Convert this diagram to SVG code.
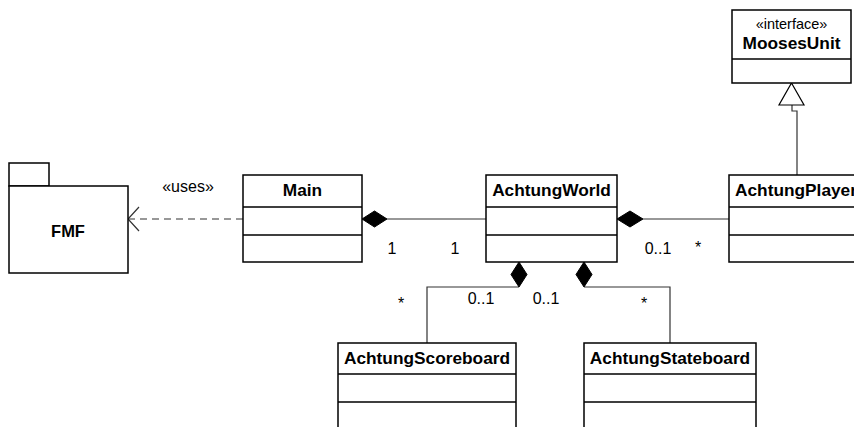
<svg xmlns="http://www.w3.org/2000/svg" width="854" height="427" viewBox="0 0 854 427">
<style>
.box{fill:#fff;stroke:#000;stroke-width:1.5}
.ln{fill:none;stroke:#000;stroke-width:1.5}
.edge{fill:none;stroke:#333;stroke-width:1.2}
.dia{fill:#000;stroke:#000;stroke-width:1}
.t{font-family:"Liberation Sans",Arial,sans-serif;font-size:16px;fill:#000}
.b{font-weight:bold;text-anchor:middle;font-size:17.3px}
.c{text-anchor:middle}
</style>
<rect width="854" height="427" fill="#fff"/>
<g id="connectors">
<path class="edge" d="M243,219 H128" stroke-dasharray="7,5"/>
<path class="edge" d="M139,207 L128,219 L139,231"/>
<path class="edge" d="M387,219 H486"/>
<path class="dia" d="M362,219 L374.5,211 L387,219 L374.5,227 Z"/>
<path class="edge" d="M643,219 H729"/>
<path class="dia" d="M617,219 L630,211 L643,219 L630,227 Z"/>
<path class="edge" d="M519,287 H427 V343"/>
<path class="dia" d="M519,262 L527,274.5 L519,287 L511,274.5 Z"/>
<path class="edge" d="M584,287 H670 V343"/>
<path class="dia" d="M584,262 L592,274.5 L584,287 L576,274.5 Z"/>
<path class="edge" d="M797,175 V111 H792 V105"/>
<path d="M791.5,83 L804,105 L779,105 Z" fill="#fff" stroke="#000" stroke-width="1.2"/>
</g>
<g class="t">
<text x="188" y="192" class="c">«uses»</text>
<text x="392" y="254" class="c">1</text>
<text x="455" y="254" class="c">1</text>
<text x="658" y="254" class="c">0..1</text>
<text x="698" y="253" class="c">*</text>
<text x="401" y="309" class="c">*</text>
<text x="481" y="304" class="c">0..1</text>
<text x="546" y="304" class="c">0..1</text>
<text x="644" y="309" class="c">*</text>
</g>
<g id="FMF">
<rect class="box" x="9" y="163" width="40" height="23"/>
<rect class="box" x="9" y="186" width="119" height="87"/>
<text class="t b" x="68" y="237" style="font-size:16.5px">FMF</text>
</g>
<g id="Main">
<rect class="box" x="243" y="175" width="119" height="87"/>
<path class="ln" d="M243,207 H362 M243,235 H362"/>
<text class="t b" x="302.5" y="196">Main</text>
</g>
<g id="AchtungWorld">
<rect class="box" x="486" y="175" width="131" height="87"/>
<path class="ln" d="M486,207 H617 M486,235 H617"/>
<text class="t b" x="551.5" y="196">AchtungWorld</text>
</g>
<g id="AchtungPlayer">
<rect class="box" x="729" y="175" width="140" height="87"/>
<path class="ln" d="M729,207 H869 M729,235 H869"/>
<text class="t b" x="735" y="196" style="text-anchor:start">AchtungPlayer</text>
</g>
<g id="MoosesUnit">
<rect class="box" x="732" y="10" width="119" height="73"/>
<path class="ln" d="M732,59 H851"/>
<text class="t c" x="791.5" y="29" style="font-size:14.5px">«interface»</text>
<text class="t b" x="791.5" y="49">MoosesUnit</text>
</g>
<g id="AchtungScoreboard">
<rect class="box" x="338" y="343" width="178" height="100"/>
<path class="ln" d="M338,374 H516 M338,402 H516"/>
<text class="t b" x="427" y="364">AchtungScoreboard</text>
</g>
<g id="AchtungStateboard">
<rect class="box" x="584" y="343" width="172" height="100"/>
<path class="ln" d="M584,374 H756 M584,402 H756"/>
<text class="t b" x="670" y="364">AchtungStateboard</text>
</g>
</svg>
